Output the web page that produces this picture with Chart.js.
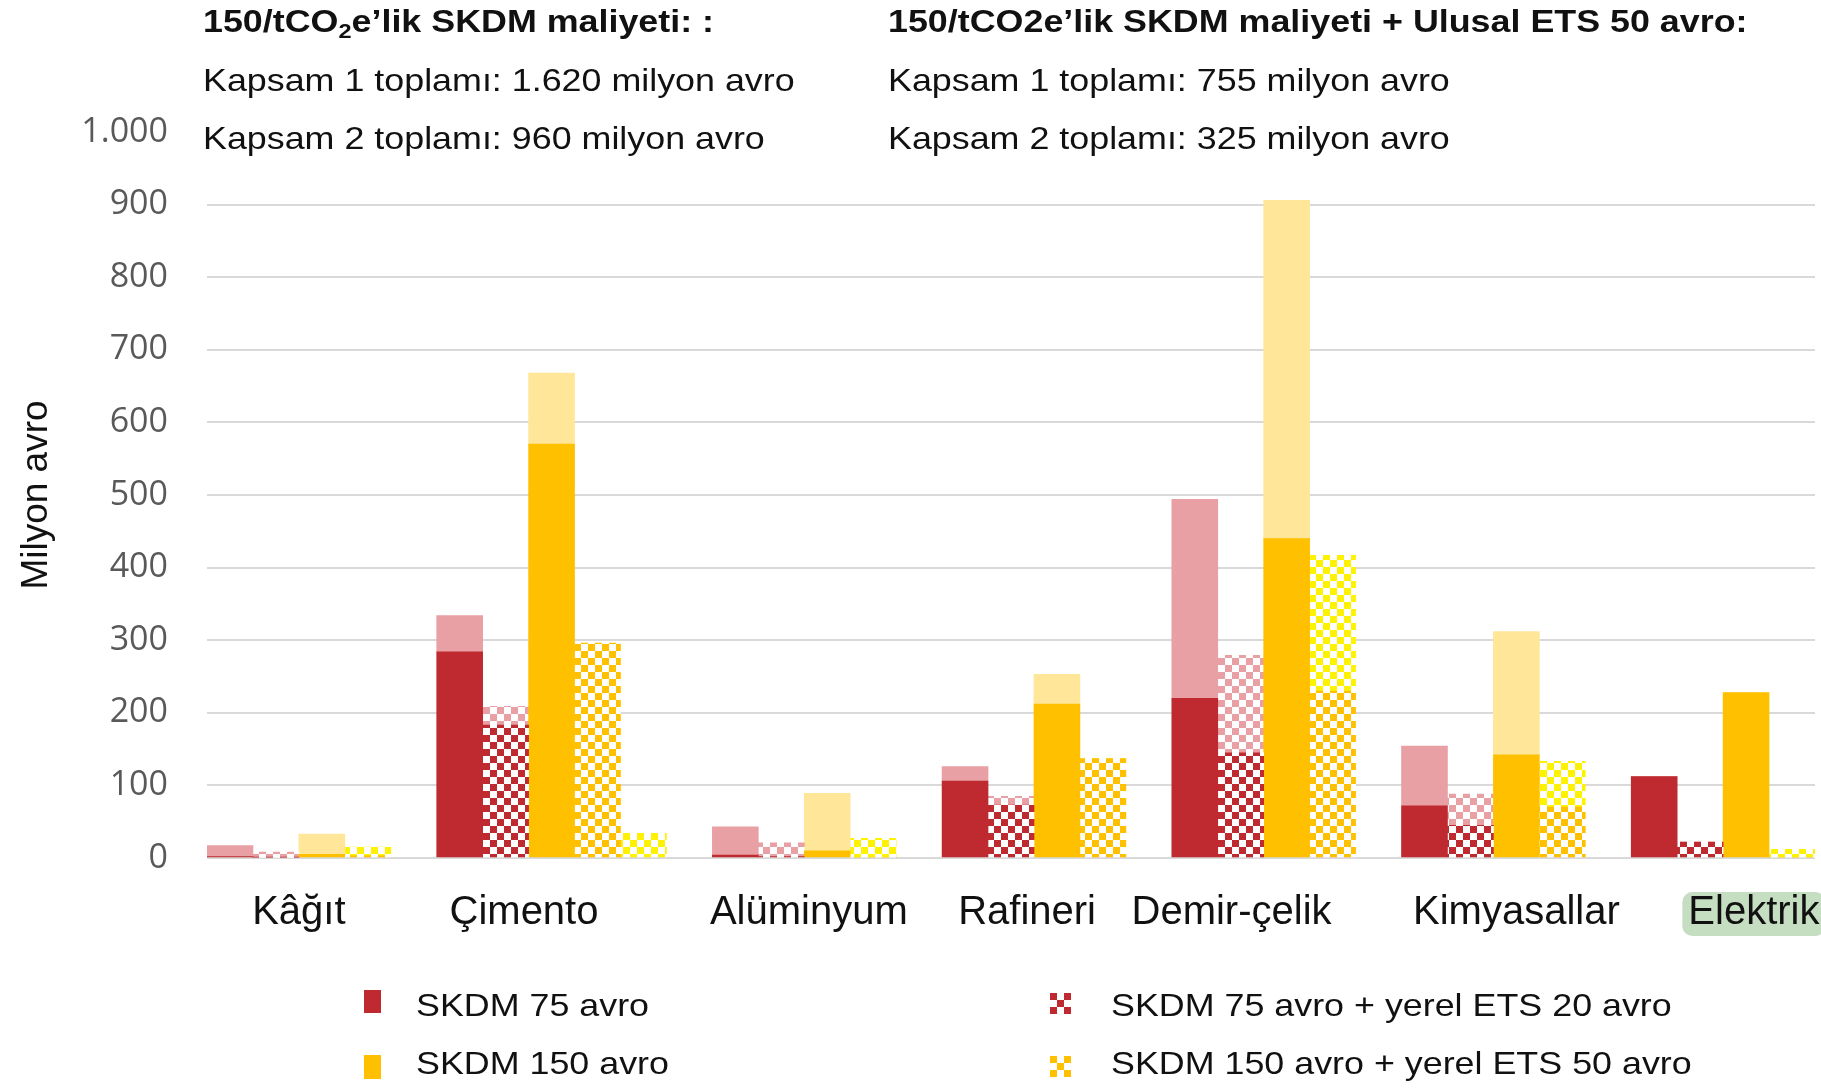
<!DOCTYPE html>
<html lang="tr">
<head>
<meta charset="utf-8">
<title>SKDM maliyeti</title>
<script src="https://cdn.jsdelivr.net/npm/chart.js@4.4.1/dist/chart.umd.min.js"></script>
<style>
  html, body { margin: 0; padding: 0; background: #fff; }
  #wrap { position: relative; width: 1821px; height: 1088px; overflow: hidden; font-family: "Liberation Sans", Arial, sans-serif; color: #111; }
  #chart { position: absolute; left: 0; top: 0; }
  .note { position: absolute; font-size: 32px; line-height: 40px; white-space: nowrap; transform: scaleX(1.12); transform-origin: left center; }
  .note.bold { font-weight: bold; }
  .note sub { font-size: 21px; line-height: 0; vertical-align: -6px; }
  .key-text { position: absolute; font-size: 32px; line-height: 40px; white-space: nowrap; transform: scaleX(1.12); transform-origin: left center; }
  .key-box { position: absolute; }
</style>
</head>
<body>
<div id="wrap">
  <canvas id="chart" width="1821" height="1088"></canvas>

  <div class="note bold" style="left:203px; top:1px;">150/tCO<sub>2</sub>e’lik SKDM maliyeti: :</div>
  <div class="note" style="left:203px; top:60px;">Kapsam 1 toplamı: 1.620 milyon avro</div>
  <div class="note" style="left:203px; top:118px;">Kapsam 2 toplamı: 960 milyon avro</div>

  <div class="note bold" style="left:888px; top:1px;">150/tCO2e’lik SKDM maliyeti + Ulusal ETS 50 avro:</div>
  <div class="note" style="left:888px; top:60px;">Kapsam 1 toplamı: 755 milyon avro</div>
  <div class="note" style="left:888px; top:118px;">Kapsam 2 toplamı: 325 milyon avro</div>

  <div class="key-box" style="left:364px; top:990px; width:17px; height:23px; background:#BE2A2F;"></div>
  <div class="key-text" style="left:416px; top:985px;">SKDM 75 avro</div>
  <div class="key-box" style="left:364px; top:1055px; width:17px; height:24px; background:#FFC000;"></div>
  <div class="key-text" style="left:416px; top:1043px;">SKDM 150 avro</div>

  <canvas class="key-box" id="key-ets20" width="21" height="21" style="left:1050px; top:993px;"></canvas>
  <div class="key-text" style="left:1111px; top:985px;">SKDM 75 avro + yerel ETS 20 avro</div>
  <canvas class="key-box" id="key-ets50" width="21" height="21" style="left:1050px; top:1056px;"></canvas>
  <div class="key-text" style="left:1111px; top:1043px;">SKDM 150 avro + yerel ETS 50 avro</div>
</div>

<script>
// sectors along the x axis
const categories = ["Kâğıt", "Çimento", "Alüminyum", "Rafineri", "Demir-çelik", "Kimyasallar", "Elektrik"];

// milyon avro; Kapsam 2 is the lighter part stacked on top of Kapsam 1
const skdm75Kapsam1 = [2, 284, 4, 106, 220, 72, 112];
const skdm75Kapsam2 = [15, 50, 39, 20, 274, 82, 0];
const ets20Kapsam1 = [1, 183, 2, 73, 145, 45, 22];
const ets20Kapsam2 = [7, 26, 19, 12, 134, 43, 0];
const skdm150Kapsam1 = [5, 570, 10, 212, 440, 142, 228];
const skdm150Kapsam2 = [28, 98, 79, 41, 466, 170, 0];
const ets50Kapsam1 = [3, 296, 0, 137, 230, 70, 0];
const ets50Kapsam2 = [12, 34, 27, 0, 187, 63, 12];

// which bar slot each sector uses (5 slots per sector, 35 in total)
const slotsSkdm75 = [0, 5, 11, 16, 21, 26, 31];
const slotsEts20 = [1, 6, 12, 17, 22, 27, 32];
const slotsSkdm150 = [2, 7, 13, 18, 23, 28, 33];
const slotsEts50 = [3, 8, 14, 19, 24, 29, 34];
const slotsEts50Kapsam2 = [3, 9, 14, 19, 24, 29, 34];

const yTicks = [0, 100, 200, 300, 400, 500, 600, 700, 800, 900, 1000];

const SLOTS = 35;
// where the sector names sit, in slot units
const labelSlots = [1.5, 6.4, 12.6, 17.35, 21.8, 28.0, 33.17];

function onSlots(values, slots) {
  const d = new Array(SLOTS).fill(null);
  values.forEach((v, i) => { d[slots[i]] = v; });
  return d;
}

// checkerboard fill used for the ETS bars
function checker(ctx, color, cell) {
  const tile = document.createElement("canvas");
  tile.width = tile.height = cell * 2;
  const t = tile.getContext("2d");
  t.fillStyle = "#ffffff";
  t.fillRect(0, 0, cell * 2, cell * 2);
  t.fillStyle = color;
  t.fillRect(0, 0, cell, cell);
  t.fillRect(cell, cell, cell, cell);
  return ctx.createPattern(tile, "repeat");
}

const RED = "#BE2A2F";
const PINK = "#E8A0A4";
const YELLOW = "#FFC000";
const LIGHT_YELLOW = "#FFE699";
const BRIGHT_YELLOW = "#FFF200";

const ctx = document.getElementById("chart").getContext("2d");

// legend swatches
["key-ets20", "key-ets50"].forEach((id, i) => {
  const c = document.getElementById(id).getContext("2d");
  c.fillStyle = checker(c, i === 0 ? RED : YELLOW, 7);
  c.fillRect(0, 0, 21, 21);
});

function bar(label, data, fill) {
  return { label, data, backgroundColor: fill, borderWidth: 0, categoryPercentage: 1, barPercentage: 1 };
}

const datasets = [
  bar("SKDM 75 avro", onSlots(skdm75Kapsam1, slotsSkdm75), RED),
  bar("SKDM 75 avro + yerel ETS 20 avro", onSlots(ets20Kapsam1, slotsEts20), checker(ctx, RED, 7)),
  bar("SKDM 150 avro", onSlots(skdm150Kapsam1, slotsSkdm150), YELLOW),
  bar("SKDM 150 avro + yerel ETS 50 avro", onSlots(ets50Kapsam1, slotsEts50), checker(ctx, YELLOW, 7)),
  bar("SKDM 75 avro (Kapsam 2)", onSlots(skdm75Kapsam2, slotsSkdm75), PINK),
  bar("SKDM 75 avro + yerel ETS 20 avro (Kapsam 2)", onSlots(ets20Kapsam2, slotsEts20), checker(ctx, PINK, 7)),
  bar("SKDM 150 avro (Kapsam 2)", onSlots(skdm150Kapsam2, slotsSkdm150), LIGHT_YELLOW),
  bar("SKDM 150 avro + yerel ETS 50 avro (Kapsam 2)", onSlots(ets50Kapsam2, slotsEts50Kapsam2), checker(ctx, BRIGHT_YELLOW, 7)),
];

// rounded green backdrop behind the "Elektrik" label
const labelHighlight = {
  id: "labelHighlight",
  beforeDraw(chart) {
    const s = chart.scales.xl;
    const c = chart.ctx;
    const i = categories.indexOf("Elektrik");
    const x = s.getPixelForValue(labelSlots[i]);
    c.save();
    c.font = '40px "Liberation Sans"';
    const w = c.measureText(categories[i]).width;
    c.fillStyle = "#C5DEC1";
    c.beginPath();
    c.roundRect(x - w / 2 - 6, s.top + 34, w + 12, 44, 10);
    c.fill();
    c.restore();
  },
};

new Chart(ctx, {
  type: "bar",
  data: { labels: Array.from({ length: SLOTS }, (_, i) => i), datasets },
  plugins: [labelHighlight],
  options: {
    responsive: false,
    devicePixelRatio: 1,
    animation: false,
    layout: { padding: { top: 132, bottom: 130, left: 0, right: 6 } },
    plugins: { legend: { display: false }, tooltip: { enabled: false } },
    scales: {
      x: { stacked: true, display: false },
      xl: {
        type: "linear",
        position: "bottom",
        offset: false,
        min: -0.5,
        max: 34.5,
        afterBuildTicks: (s) => { s.ticks = labelSlots.map((v) => ({ value: v })); },
        // the last label runs to the canvas edge; keep the plot width fixed
        afterFit: (s) => { s.height = 100; s.paddingLeft = 0; s.paddingRight = 0; },
        grid: { display: false, offset: false },
        border: { display: false },
        ticks: {
          autoSkip: false,
          maxRotation: 0,
          minRotation: 0,
          padding: 23,
          color: "#111",
          font: { family: "Liberation Sans", size: 40 },
          callback: (v) => categories[labelSlots.indexOf(v)],
        },
      },
      y: {
        stacked: true,
        min: 0,
        max: 1000,
        afterFit: (s) => { s.width = 207; },
        afterBuildTicks: (s) => { s.ticks = yTicks.map((v) => ({ value: v })); },
        border: { display: false },
        grid: {
          drawTicks: false,
          lineWidth: 2,
          color: (c) => (c.tick && c.tick.value === 1000 ? "rgba(0,0,0,0)" : "#D9D9D9"),
        },
        ticks: {
          padding: 39,
          color: "#595959",
          font: { family: "Open Sans", size: 34 },
          callback: (v) => String(v).replace(/\B(?=(\d{3})+$)/g, "."),
        },
        title: {
          display: true,
          text: "Milyon avro",
          color: "#111",
          padding: { top: 15, bottom: 0 },
          font: { family: "Liberation Sans", size: 37 },
        },
      },
    },
  },
});
</script>
</body>
</html>
